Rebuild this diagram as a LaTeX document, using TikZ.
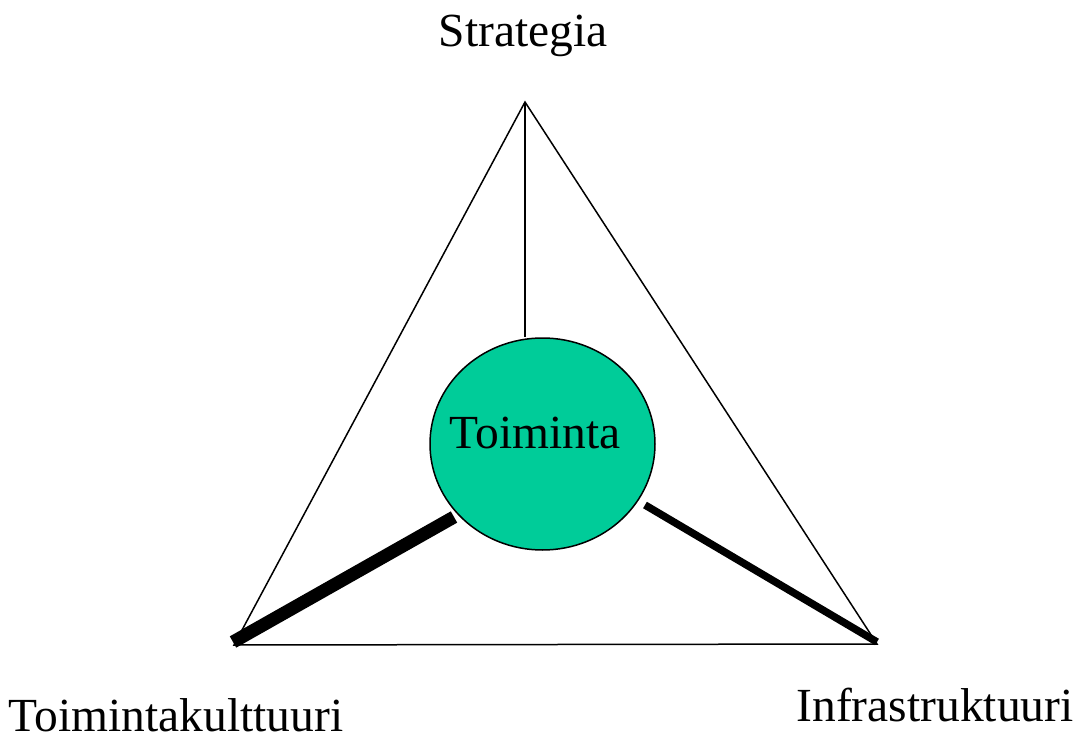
\documentclass[tikz,border=0pt]{standalone}
\usepackage{fontspec}
\setmainfont{Liberation Serif}
\usetikzlibrary{shapes.geometric}
\definecolor{actgreen}{HTML}{00CC99}
\begin{document}
\begin{tikzpicture}[x=1pt,y=-1pt,
  thin edge/.style={line width=1.5pt},
  label text/.style={font=\fontsize{47.5}{56}\selectfont, anchor=base, inner sep=0pt, text depth=0pt},
  heavy/.style={line width=13pt, line cap=butt},
  medium/.style={line width=7.5pt, line cap=butt}]
\useasboundingbox (0,0) rectangle (1085,738);
\coordinate (top) at (525,102);
\coordinate (bl) at (234,645);
\coordinate (br) at (877,644);
\coordinate (lend) at (454,517);
\coordinate (rend) at (645,505);
\coordinate (lstart) at (233,642);
\coordinate (rstart) at (877,642);
\draw[thin edge] (top) -- (bl) -- (br) -- cycle;
\node[ellipse, draw, line width=1.5pt, fill=actgreen, minimum width=225pt, minimum height=212pt, inner sep=0pt] (act) at (542.5,444) {};
\draw[thin edge] (top) -- (top |- act.north);
\draw[heavy] (lstart) -- (lend);
\draw[medium] (rstart) -- (rend);
\node[label text] (acttext) at (535,448) {Toiminta};
\node[label text] (strat) at (523,47) {Strategia};
\node[label text] (cult) at (176,731) {Toimintakulttuuri};
\node[label text] (infra) at (935,721) {Infrastruktuuri};
\end{tikzpicture}
\end{document}
